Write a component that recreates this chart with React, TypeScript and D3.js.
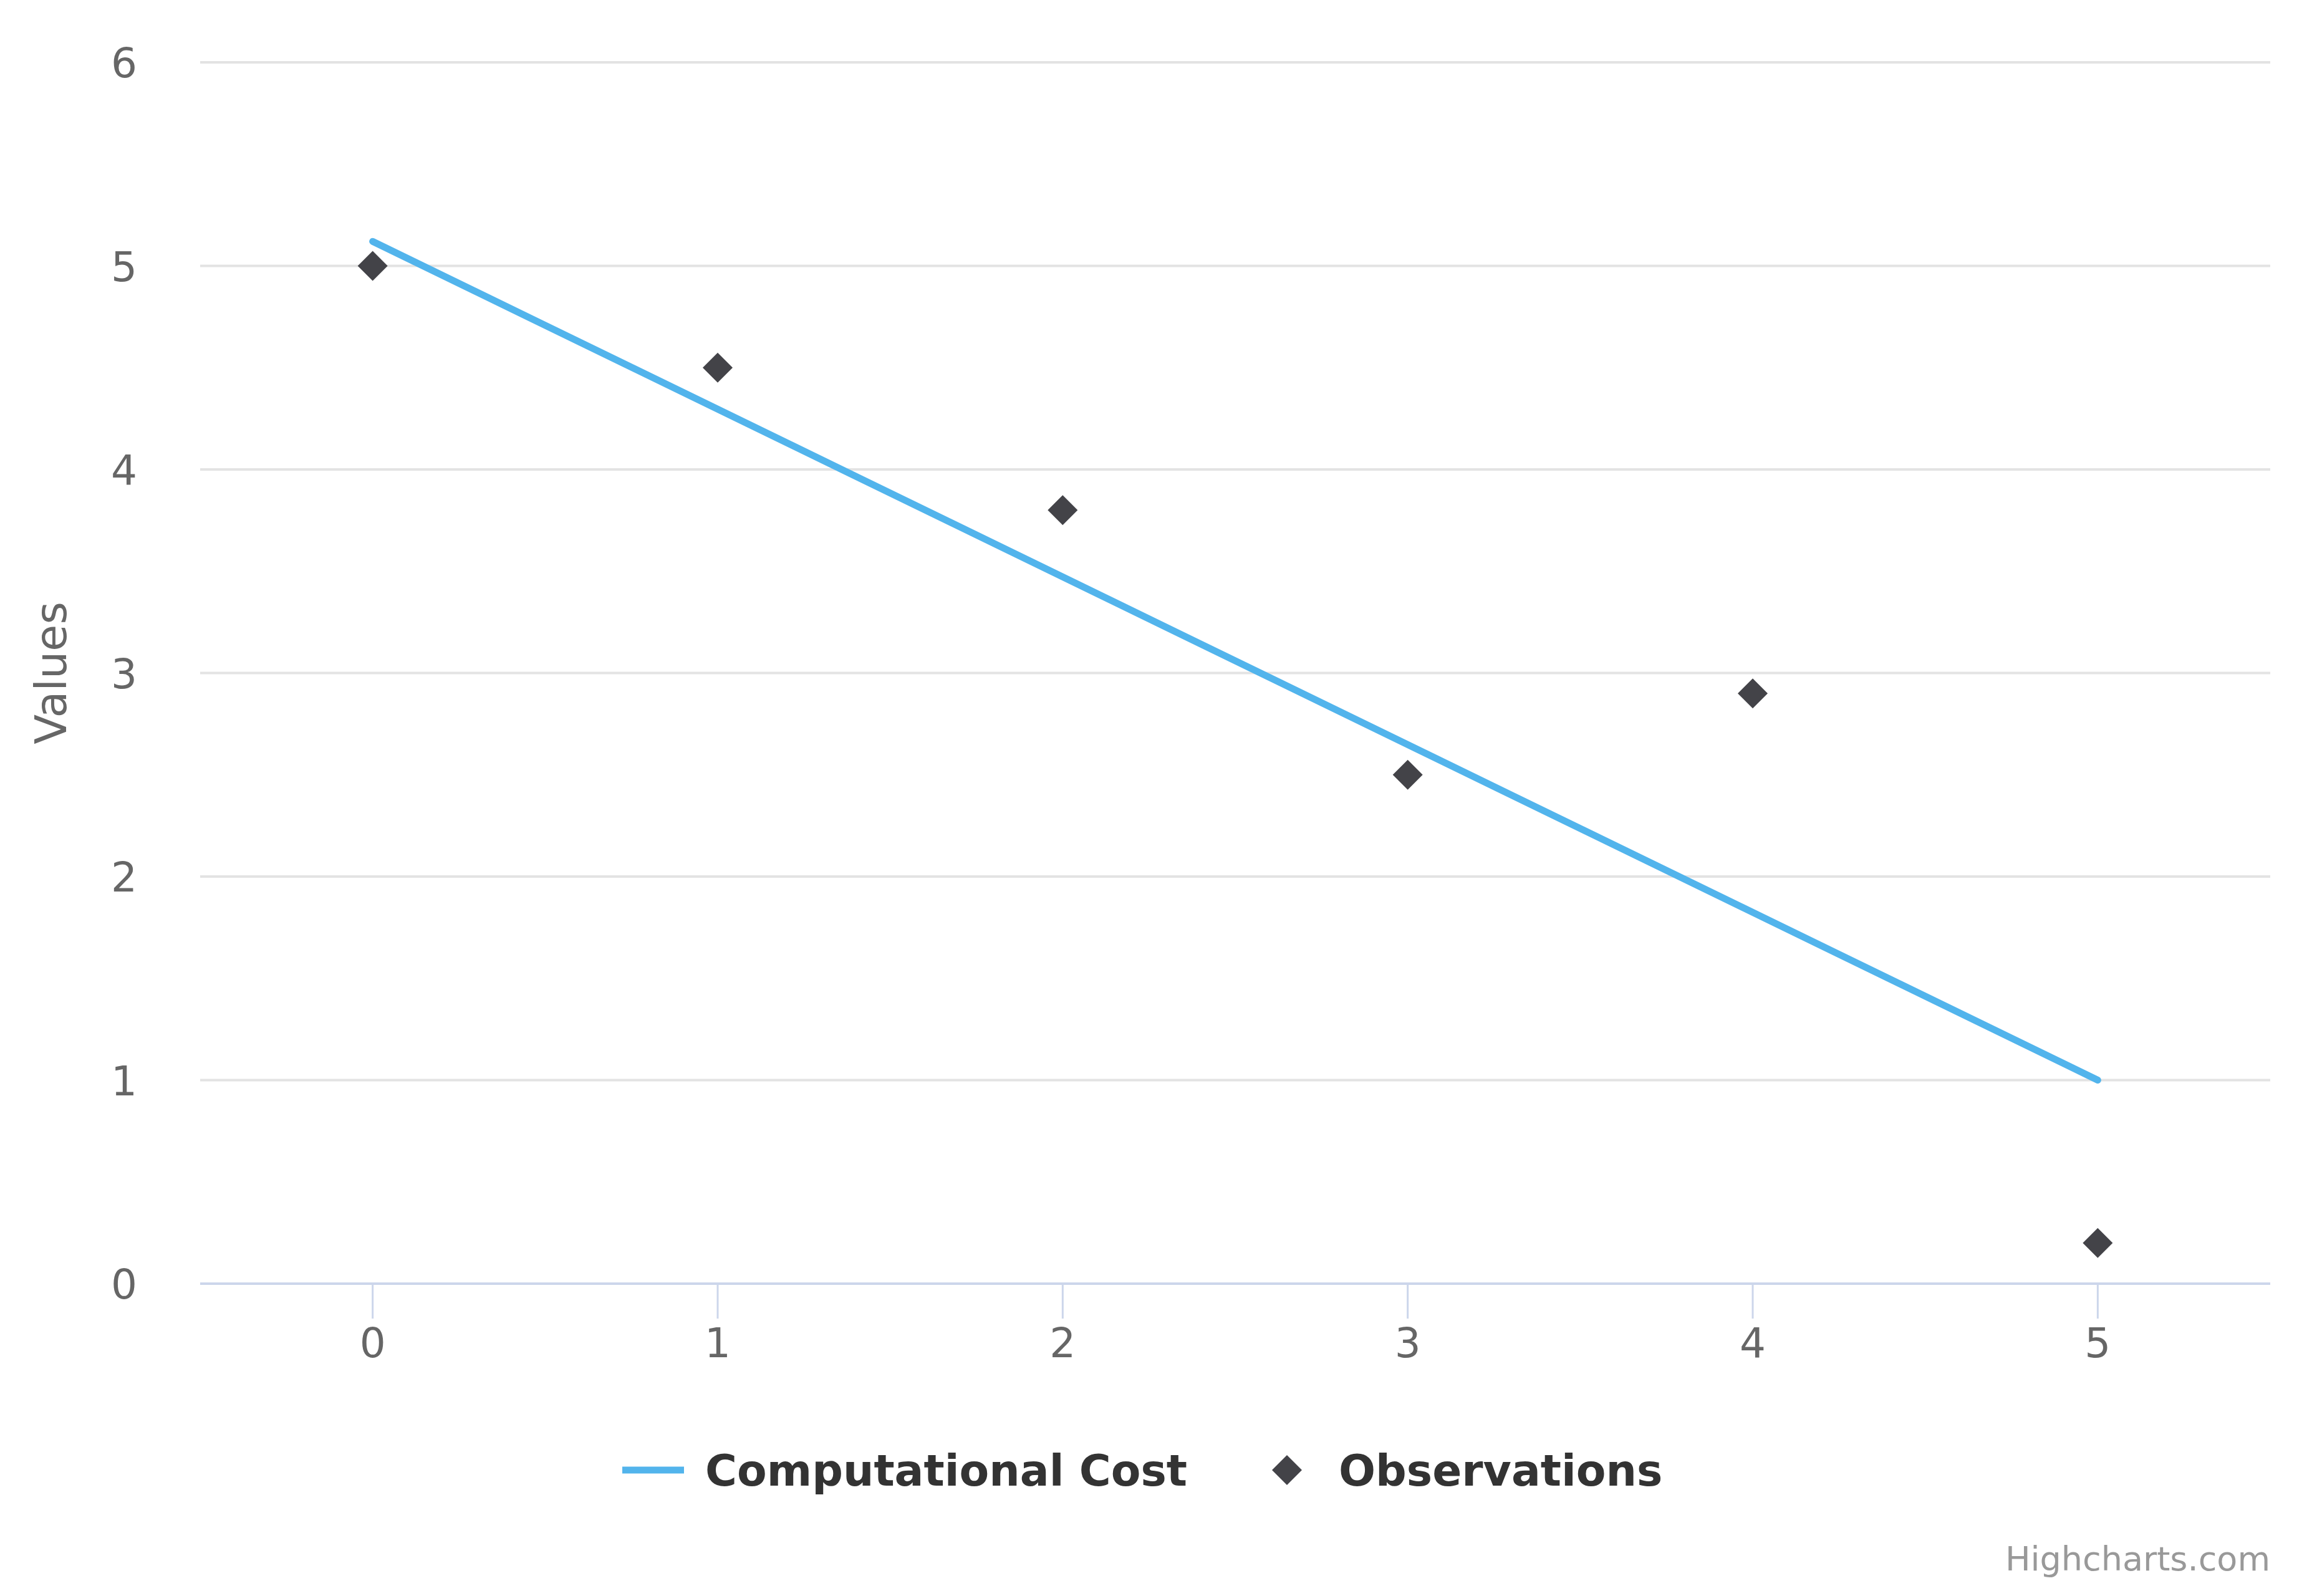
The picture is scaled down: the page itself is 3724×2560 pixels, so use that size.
import React from 'react';
import { scaleLinear, line } from 'd3';

// chart data
const xTicks = [0, 1, 2, 3, 4, 5];
const yTicks = [0, 1, 2, 3, 4, 5, 6];
const costX = [0, 5];
const costY = [5.12, 1.0];
const obsX = [0, 1, 2, 3, 4, 5];
const obsY = [5.0, 4.5, 3.8, 2.5, 2.9, 0.2];
const seriesNames = ['Computational Cost', 'Observations'];

const W = 3724;
const H = 2560;
const font = '"DejaVu Sans", Verdana, sans-serif';

const App = () => {
    const margin = { top: 100, right: 83, bottom: 501, left: 321 };
    const x = scaleLinear().domain([-0.5, 5.5]).range([margin.left, W - margin.right]);
    const y = scaleLinear().domain([0, 6]).range([H - margin.bottom, margin.top]);

    const costLine = line<number>().x((d, i) => x(costX[i])).y(d => y(d))(costY) || '';
    const diamond = (cx: number, cy: number, r: number) =>
        `M${cx},${cy - r}L${cx + r},${cy}L${cx},${cy + r}L${cx - r},${cy}Z`;

    const legendY = 2358;

    return (
        <svg width={W} height={H} style={{ position: 'absolute', left: 0, top: 0, background: '#ffffff' }}>
            {/* grid */}
            <g>
                {yTicks.filter(t => t > 0).map(t => (
                    <line key={t} x1={x.range()[0]} x2={x.range()[1]} y1={y(t)} y2={y(t)} stroke="#e3e3e3" strokeWidth={4} />
                ))}
            </g>
            {/* x axis */}
            <line x1={x.range()[0]} x2={x.range()[1]} y1={y(0)} y2={y(0)} stroke="#ccd6eb" strokeWidth={4} />
            <g>
                {xTicks.map(t => (
                    <g key={t} transform={`translate(${x(t)},${y(0)})`}>
                        <line y2={56} stroke="#ccd6eb" strokeWidth={3} />
                        <text y={118} textAnchor="middle" fill="#666666" fontSize={66} fontFamily={font}>{t}</text>
                    </g>
                ))}
            </g>
            {/* y axis labels */}
            <g>
                {yTicks.map(t => (
                    <text key={t} x={220} y={y(t) + 24} textAnchor="end" fill="#666666" fontSize={66} fontFamily={font}>{t}</text>
                ))}
            </g>
            <text transform={`translate(${106},${(y(0) + y(6)) / 2}) rotate(-90)`} textAnchor="middle" fill="#666666" fontSize={70} fontFamily={font}>Values</text>

            {/* series */}
            <path d={costLine} fill="none" stroke="#52b4ec" strokeWidth={11} strokeLinecap="round" strokeLinejoin="round" />
            <g>
                {obsY.map((v, i) => (
                    <path key={i} d={diamond(x(obsX[i]), y(v), 24)} fill="#434348" />
                ))}
            </g>

            {/* legend */}
            <g>
                <line x1={998} x2={1097} y1={legendY} y2={legendY} stroke="#52b4ec" strokeWidth={11} />
                <text x={1131} y={legendY + 25} fill="#333333" fontSize={69.5} fontWeight="bold" fontFamily={font}>{seriesNames[0]}</text>
                <path d={diamond(2064, legendY, 24)} fill="#434348" />
                <text x={2147} y={legendY + 25} fill="#333333" fontSize={69.5} fontWeight="bold" fontFamily={font}>{seriesNames[1]}</text>
            </g>

            <text x={W - margin.right} y={2519} textAnchor="end" fill="#999999" fontSize={54} fontFamily={font}>Highcharts.com</text>
        </svg>
    );
};

export default App;
